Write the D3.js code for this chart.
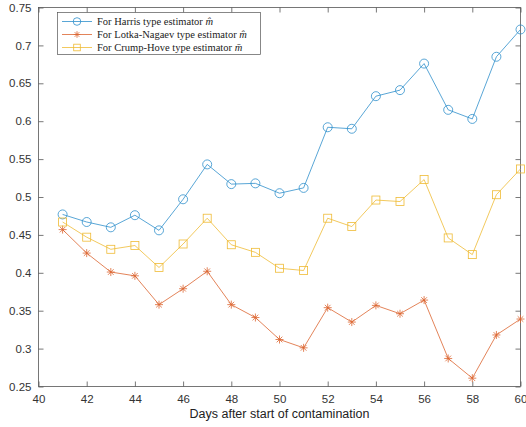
<!DOCTYPE html>
<html><head><meta charset="utf-8">
<script src="https://cdn.jsdelivr.net/npm/d3@7"></script>
<style>body{margin:0;background:#fff}svg{display:block}</style>
</head><body>
<svg id="c" width="526" height="427"></svg>
<script>
const days = [41,42,43,44,45,46,47,48,49,50,51,52,53,54,55,56,57,58,59,60];
const harris = [0.477,0.467,0.460,0.476,0.456,0.497,0.543,0.517,0.518,0.505,0.512,0.592,0.590,0.633,0.641,0.676,0.615,0.603,0.685,0.721];
const lotka = [0.457,0.426,0.401,0.396,0.358,0.379,0.402,0.358,0.341,0.312,0.301,0.354,0.335,0.357,0.346,0.364,0.287,0.261,0.318,0.339];
const crump = [0.467,0.447,0.431,0.436,0.407,0.438,0.472,0.437,0.427,0.406,0.403,0.472,0.461,0.496,0.494,0.523,0.446,0.424,0.503,0.537];
const xTicks = [40,42,44,46,48,50,52,54,56,58,60];
const yTicks = [0.25,0.3,0.35,0.4,0.45,0.5,0.55,0.6,0.65,0.7,0.75];
const seriesNames = ["For Harris type estimator ","For Lotka-Nagaev type estimator ","For Crump-Hove type estimator "];
const seriesSym = ["m\u0302","m\u0302","m\u0304"];
const colors = ["#2f8fcc","#dc6430","#efbb35"];

const svg = d3.select("#c");
const L=38.5,R=520.5,T=7.5,B=386.5;
const x = d3.scaleLinear().domain([40,60]).range([L,R]);
const y = d3.scaleLinear().domain([0.25,0.75]).range([B,T]);
const axCol="#555";
svg.append("rect").attr("x",L).attr("y",T).attr("width",R-L).attr("height",B-T).attr("fill","none").attr("stroke",axCol).attr("stroke-width",0.8);
const fmt = d=>String(+d.toFixed(2));
const gx = svg.append("g").attr("transform",`translate(0,${B})`).call(d3.axisBottom(x).tickValues(xTicks).tickSize(-5).tickPadding(8).tickFormat(d3.format("d")));
const gxt = svg.append("g").attr("transform",`translate(0,${T})`).call(d3.axisTop(x).tickValues(xTicks).tickSize(-5).tickFormat(""));
const gy = svg.append("g").attr("transform",`translate(${L},0)`).call(d3.axisLeft(y).tickValues(yTicks).tickSize(-5).tickPadding(7).tickFormat(fmt));
const gyr = svg.append("g").attr("transform",`translate(${R},0)`).call(d3.axisRight(y).tickValues(yTicks).tickSize(-5).tickFormat(""));
[gx,gxt,gy,gyr].forEach(g=>{g.select(".domain").remove();g.selectAll("line").attr("stroke",axCol).attr("stroke-width",0.8);
 g.selectAll("text").attr("fill","#333").style("font-family","Liberation Sans, Arial, sans-serif").style("font-size","11.5px");});
svg.append("text").attr("x",(L+R)/2).attr("y",418).attr("text-anchor","middle").attr("fill","#222")
 .style("font-family","Liberation Sans, Arial, sans-serif").style("font-size","12.5px").text("Days after start of contamination");

function marker(g,type,cx,cy,col,s){
  if(type===0) g.append("circle").attr("cx",cx).attr("cy",cy).attr("r",s).attr("fill","none").attr("stroke",col).attr("stroke-width",0.8);
  else if(type===2) g.append("rect").attr("x",cx-s).attr("y",cy-s).attr("width",2*s).attr("height",2*s).attr("fill","none").attr("stroke",col).attr("stroke-width",0.8);
  else { for(let a=0;a<4;a++){const t=a*Math.PI/4; g.append("line").attr("x1",cx-s*Math.cos(t)).attr("y1",cy-s*Math.sin(t)).attr("x2",cx+s*Math.cos(t)).attr("y2",cy+s*Math.sin(t)).attr("stroke",col).attr("stroke-width",0.8);} }
}
const all=[harris,lotka,crump];
const sizes=[4.5,4,4];
const line=d3.line().x((d,i)=>x(days[i])).y(d=>y(d));
all.forEach((vals,k)=>{
  const g=svg.append("g");
  g.append("path").datum(vals).attr("d",line).attr("fill","none").attr("stroke",colors[k]).attr("stroke-width",0.8);
  vals.forEach((v,i)=>marker(g,k===0?0:(k===1?1:2),x(days[i]),y(v),colors[k],sizes[k]));
});
const lg=svg.append("g");
lg.append("rect").attr("x",57.5).attr("y",12.5).attr("width",203).attr("height",42).attr("fill","#fff").attr("stroke",axCol).attr("stroke-width",0.7);
seriesNames.forEach((n,k)=>{
  const yy=21.5+k*13;
  lg.append("line").attr("x1",62).attr("x2",92).attr("y1",yy).attr("y2",yy).attr("stroke",colors[k]).attr("stroke-width",0.8);
  marker(lg,k===0?0:(k===1?1:2),77,yy,colors[k],k===0?3.8:3.3);
  const t=lg.append("text").attr("x",97).attr("y",yy+3.5).attr("fill","#222").style("font-family","Liberation Serif, DejaVu Serif, serif").style("font-size","10.5px");
  t.append("tspan").text(n);
  t.append("tspan").style("font-style","italic").text(seriesSym[k]);
});
</script>
</body></html>
